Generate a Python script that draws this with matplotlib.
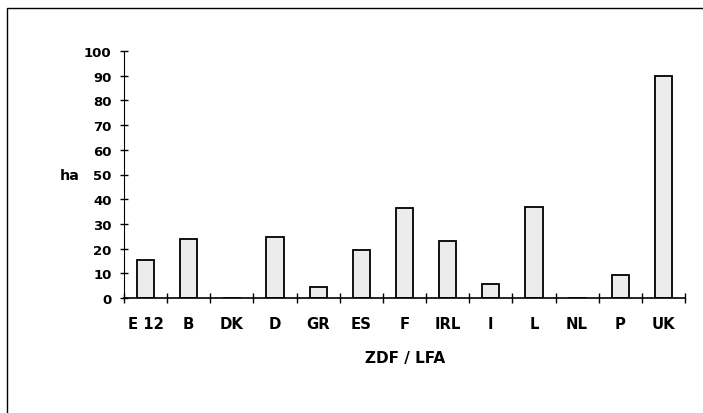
import matplotlib
matplotlib.use("Agg")
import matplotlib.pyplot as plt
from matplotlib.patches import Rectangle

# Values (ha)
countries = ["E 12", "B", "DK", "D", "GR", "ES", "F", "IRL", "I", "L", "NL", "P", "UK"]
hectares = [15.4, 23.9, 0, 24.7, 4.4, 19.4, 36.3, 23.0, 5.8, 37.0, 0, 9.4, 90]
yticks = list(range(0, 101, 10))

plt.rcParams["font.family"] = ["DejaVu Sans"]
plt.rcParams["font.weight"] = "bold"

fig = plt.figure(figsize=(7.03, 4.14), dpi=100)
ax = fig.add_axes([124 / 703, 1 - 299 / 414, 561 / 703, 247 / 414])

x = list(range(len(countries)))
ax.bar(x, hectares, width=0.4, color="#ececec", edgecolor="black", linewidth=1.3)

ax.set_xlim(-0.5, len(countries) - 0.5)
ax.set_ylim(0, 100)
ax.set_yticks(yticks)
ax.set_yticklabels([str(v) for v in yticks], fontsize=9.5, fontweight="bold")

ax.set_xticks(x)
ax.set_xticklabels(countries, fontsize=10.7, fontweight="bold")
ax.tick_params(axis="x", length=0, pad=13)
ax.set_xticks([i - 0.5 for i in range(len(countries) + 1)], minor=True)
ax.tick_params(axis="x", which="minor", direction="inout", length=7, width=1)
ax.tick_params(axis="y", direction="inout", length=6, width=1, pad=6)

for s in ["top", "right"]:
    ax.spines[s].set_visible(False)
ax.spines["left"].set_linewidth(0.8)
ax.spines["bottom"].set_linewidth(1.2)

fig.text(405 / 703, 1 - 359 / 414, "ZDF / LFA", fontsize=11, fontweight="bold",
         ha="center", va="center")
fig.text(70 / 703, 1 - 176 / 414, "ha", fontsize=10.3, fontweight="bold",
         ha="center", va="center")

# outer frame (top and left edges visible in the original)
fig.patches.append(Rectangle((7 / 703, -0.01), 720 / 703, 1 - 9 / 414 + 0.01,
                             transform=fig.transFigure, fill=False,
                             edgecolor="black", linewidth=1))

fig.savefig("out.png", dpi=100)
